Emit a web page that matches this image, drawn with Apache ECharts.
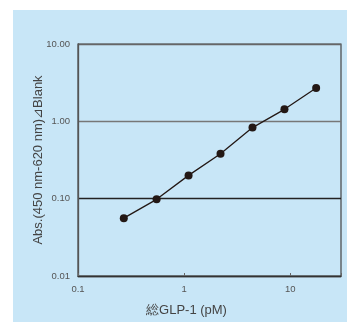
<!DOCTYPE html>
<html>
<head>
<meta charset="utf-8">
<script src="https://cdn.jsdelivr.net/npm/echarts@6/dist/echarts.min.js"></script>
<style>
html,body{margin:0;padding:0;background:#fff;}
#c{width:347px;height:322px;}
</style>
</head>
<body>
<div id="c"></div>
<script>
// Data
const concentrations = [0.27, 0.55, 1.1, 2.2, 4.4, 8.8, 17.5]; // 総GLP-1 (pM)
const absorbance = [0.056, 0.098, 0.20, 0.38, 0.83, 1.43, 2.7];
const xTickLabels = ['0.1', '1', '10'];
const yTickLabels = ['0.01', '0.10', '1.00', '10.00'];

const points = concentrations.map((x, i) => [x, absorbance[i]]);
const font = '"Liberation Sans", Arial, sans-serif';

const chart = echarts.init(document.getElementById('c'));
chart.setOption({
  animation: false,
  backgroundColor: '#ffffff',
  graphic: [{
    type: 'rect', z: -10, silent: true,
    shape: { x: 13, y: 10, width: 334, height: 312 },
    style: { fill: '#c8e6f7' }
  }],
  grid: {
    left: 78, top: 44, right: 6, bottom: 43,
    show: true, borderColor: '#444', borderWidth: 1.2, backgroundColor: 'transparent'
  },
  xAxis: {
    type: 'log', logBase: 10, min: 0.1, max: 30,
    name: '総GLP-1 (pM)', nameLocation: 'middle', nameGap: 28, nameMoveOverlap: false,
    nameTextStyle: { fontFamily: font, fontSize: 13, color: '#444', padding: [0, 46, 0, 0] },
    axisLine: { show: true, onZero: false, lineStyle: { color: '#333', width: 1.3 } },
    axisTick: { show: true, inside: true, length: 3, lineStyle: { color: '#666' } },
    axisLabel: {
      fontFamily: font, fontSize: 9.5, color: '#555', margin: 8,
      formatter: v => {
        const s = xTickLabels.find(t => Math.abs(parseFloat(t) - v) < 1e-9 * Math.max(1, v));
        return s || '';
      }
    },
    splitLine: { show: false }
  },
  yAxis: {
    type: 'log', logBase: 10, min: 0.01, max: 10,
    name: 'Abs.(450 nm-620 nm)⊿Blank', nameLocation: 'middle', nameGap: 33, nameMoveOverlap: false,
    nameTextStyle: { fontFamily: font, fontSize: 13, color: '#444' },
    axisLine: { show: true, lineStyle: { color: '#555', width: 1.3 } },
    axisTick: { show: false },
    axisLabel: {
      fontFamily: font, fontSize: 9.5, color: '#555', margin: 8,
      formatter: v => {
        const s = yTickLabels.find(t => Math.abs(parseFloat(t) - v) < 1e-9 * Math.max(1, v));
        return s || '';
      }
    },
    splitLine: { show: true, lineStyle: { color: ['#555', '#222', '#777', '#666'], width: 1.3 } }
  },
  series: [{
    type: 'line',
    data: points,
    symbol: 'circle', symbolSize: 8,
    lineStyle: { color: '#231815', width: 1.3 },
    itemStyle: { color: '#231815' }
  }]
});
</script>
</body>
</html>
